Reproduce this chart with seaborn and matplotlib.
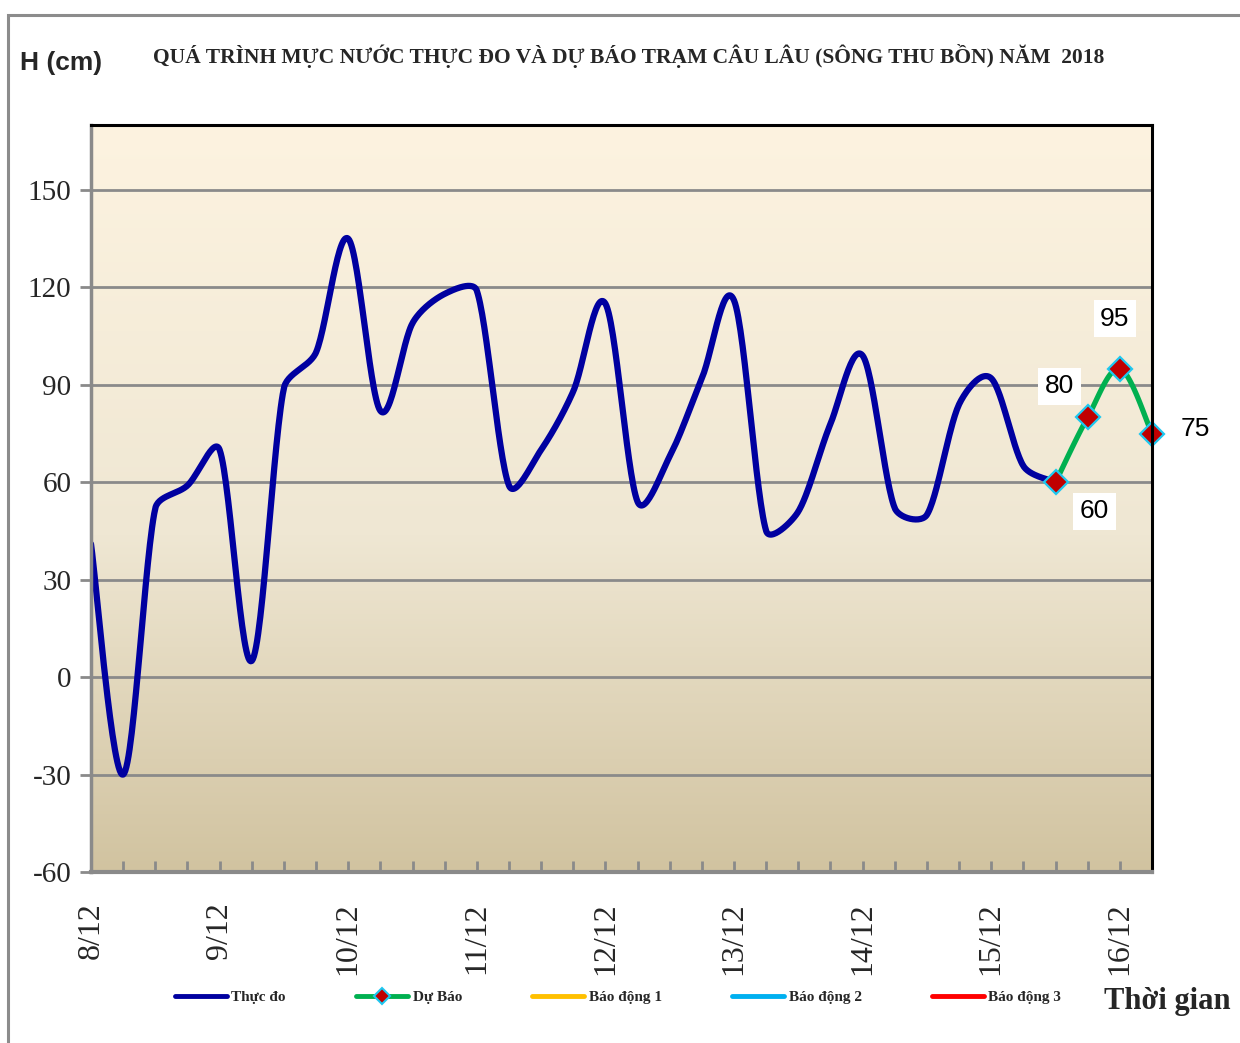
import numpy as np
import pandas as pd
import matplotlib
matplotlib.use("Agg")
import matplotlib.pyplot as plt
from matplotlib.lines import Line2D
from matplotlib.patches import Rectangle
import seaborn as sns

# ---------------- data ----------------
day_labels = ["8/12", "9/12", "10/12", "11/12", "12/12", "13/12", "14/12", "15/12", "16/12"]
steps_per_day = 4  # 6-hourly observations
observed = [41, -30, 52, 59, 70, 5, 89, 100, 135, 82, 109, 118, 119, 59, 70, 88,
            115, 54, 68, 92, 116, 45, 51, 78, 99, 52, 50, 84, 92, 65, 60]
forecast = [60, 80, 95, 75]
forecast_start = 30
alert_levels = [200, 300, 400]  # Báo động 1, 2, 3 (above the plotted range)
alert_names = ["Báo động 1", "Báo động 2", "Báo động 3"]
alert_colors = ["#FFC000", "#00B0F0", "#FF0000"]
y_ticks = [-60, -30, 0, 30, 60, 90, 120, 150]

title = "QUÁ TRÌNH MỰC NƯỚC THỰC ĐO VÀ DỰ BÁO TRẠM CÂU LÂU (SÔNG THU BỒN) NĂM  2018"

# screen scale (px per x step, px per cm) used only for the curve smoothing shape
SX, SY = 32.15, 3.248


def smooth(xs, ys, n=30):
    """Bezier smoothing through the points (Catmull-Rom tangents limited by segment length)."""
    P = np.column_stack([np.asarray(xs, float) * SX, np.asarray(ys, float) * SY])
    m = len(P)
    tang = []
    for i in range(m):
        a = P[max(i - 1, 0)]
        b = P[min(i + 1, m - 1)]
        tang.append((b - a) / 6.0)
    t = np.linspace(0, 1, n, endpoint=False)[:, None]
    out = []
    for i in range(m - 1):
        p0, p3 = P[i], P[i + 1]
        d = np.hypot(*(p3 - p0))
        t0, t1 = tang[i], tang[i + 1]
        f0 = min(1.0, d / 3.0 / max(np.hypot(*t0), 1e-9))
        f1 = min(1.0, d / 3.0 / max(np.hypot(*t1), 1e-9))
        p1 = p0 + t0 * f0
        p2 = p3 - t1 * f1
        seg = ((1 - t) ** 3) * p0 + 3 * ((1 - t) ** 2) * t * p1 + 3 * (1 - t) * t ** 2 * p2 + t ** 3 * p3
        out.append(seg)
    out.append(P[-1][None, :])
    out = np.vstack(out)
    return out[:, 0] / SX, out[:, 1] / SY


obs_x = np.arange(len(observed))
fc_x = np.arange(forecast_start, forecast_start + len(forecast))
n_points = forecast_start + len(forecast)

sx, sy = smooth(obs_x, observed)
fx, fy = smooth(fc_x, forecast)
obs_df = pd.DataFrame({"t": sx, "h": sy})
fc_df = pd.DataFrame({"t": fx, "h": fy})
fc_pts = pd.DataFrame({"t": fc_x, "h": forecast})

# ---------------- figure ----------------
sns.set_theme(style="white")
plt.rcParams["font.family"] = ["Liberation Serif", "DejaVu Serif"]

W, H = 1240, 1043
fig = plt.figure(figsize=(W / 100, H / 100), dpi=100)
fig.patch.set_facecolor("white")

# outer chart frame
fig.patches.append(Rectangle((8 / W, -0.05), 1.2, (H - 15) / H + 0.05, transform=fig.transFigure,
                             fill=False, edgecolor="#8C8C8C", linewidth=2.2, zorder=0))

L, R, T, B = 91, 1152, 125, 872
ax = fig.add_axes([L / W, (H - B) / H, (R - L) / W, (B - T) / H])
ax.set_xlim(0, n_points - 1)
ax.set_ylim(-60, 170)

# gradient plot-area background
grad = np.linspace(0, 1, 256)[:, None]
top_c = np.array([253, 243, 224]) / 255
mid_c = np.array([239, 231, 211]) / 255
bot_c = np.array([209, 195, 160]) / 255
cols = np.where(grad < 0.55,
                top_c + (mid_c - top_c) * (grad / 0.55),
                mid_c + (bot_c - mid_c) * ((grad - 0.55) / 0.45))
ax.imshow(cols[:, None, :].reshape(256, 1, 3), extent=[0, n_points - 1, -60, 170],
          aspect="auto", origin="upper", zorder=0)

# gridlines
for yv in y_ticks:
    ax.axhline(yv, color="#8A8A8A", lw=2.0, zorder=1)

# alert levels (outside the visible range, as in the original)
for lvl, c in zip(alert_levels, alert_colors):
    ax.axhline(lvl, color=c, lw=3, zorder=2)

sns.lineplot(data=obs_df, x="t", y="h", sort=False, estimator=None, color="#0000A0",
             lw=4.5, ax=ax, zorder=4, legend=False)
sns.lineplot(data=fc_df, x="t", y="h", sort=False, estimator=None, color="#00B050",
             lw=3.8, ax=ax, zorder=5, legend=False)
ax.plot(fc_pts["t"], fc_pts["h"], ls="none", marker="D", ms=12, mfc="#C00000",
        mec="#1EC8F0", mew=1.6, zorder=6, clip_on=False)

# data labels
label_offsets = [(39, -29, True), (-28, 31, True), (-5, 50, True), (43, 5, False)]
for xv, yv, (dx, dy, boxed) in zip(fc_x, forecast, label_offsets):
    ax.annotate(str(yv), (xv, yv), xytext=(dx * 0.72, dy * 0.72), textcoords="offset points",
                ha="center", va="center", fontsize=19, family=["Liberation Sans", "DejaVu Sans"],
                color="black", zorder=7, annotation_clip=False,
                bbox=dict(boxstyle="square,pad=0.25", fc="white", ec="none") if boxed else None)

# axes styling
ax.set_xlabel("")
ax.set_ylabel("")
ax.set_yticks(y_ticks)
ax.set_yticklabels([str(v) for v in y_ticks], fontsize=21)
ax.tick_params(axis="y", direction="out", length=8, width=2, color="#8A8A8A", pad=6, left=True)
xt = np.arange(n_points)
xl = [day_labels[i // steps_per_day] if i % steps_per_day == 0 else "" for i in xt]
ax.set_xticks(xt)
ax.set_xticklabels(xl, rotation=90, fontsize=23)
ax.tick_params(axis="x", direction="in", length=8, width=2, color="#8A8A8A", pad=22, bottom=True)
for lab in ax.get_xticklabels():
    lab.set_va("top")
ax.grid(False)
ax.spines["left"].set_color("#8A8A8A")
ax.spines["left"].set_linewidth(2.5)
ax.spines["bottom"].set_color("#8A8A8A")
ax.spines["bottom"].set_linewidth(3)
ax.spines["top"].set_color("black")
ax.spines["top"].set_linewidth(2.2)
ax.spines["right"].set_color("black")
ax.spines["right"].set_linewidth(2.2)
for s in ax.spines.values():
    s.set_zorder(8)

# titles
fig.text(20 / W, 1 - 63 / H, "H (cm)", fontsize=19, fontweight="bold",
         family=["Liberation Sans", "DejaVu Sans"], va="center", ha="left")
fig.text(629 / W, 1 - 56 / H, title, fontsize=15.5, fontweight="bold", va="center", ha="center")
fig.text(1167 / W, 1 - 1001 / H, "Thời gian", fontsize=22, fontweight="bold", va="center", ha="center")

# legend
handles = [Line2D([], [], color="#0000A0", lw=3.5),
           Line2D([], [], color="#00B050", lw=3.5, marker="D", ms=8, mfc="#C00000",
                  mec="#1EC8F0", mew=1.5)]
handles += [Line2D([], [], color=c, lw=3.5) for c in alert_colors]
names = ["Thực đo", "Dự Báo"] + alert_names
fig.legend(handles, names, loc="center", bbox_to_anchor=(618 / W, 1 - 997 / H), ncol=5,
           frameon=False, prop=dict(family="Liberation Serif", weight="bold", size=11),
           handlelength=3.4, handletextpad=0.3, columnspacing=4.6)

fig.savefig("out.png", dpi=100, facecolor="white")
